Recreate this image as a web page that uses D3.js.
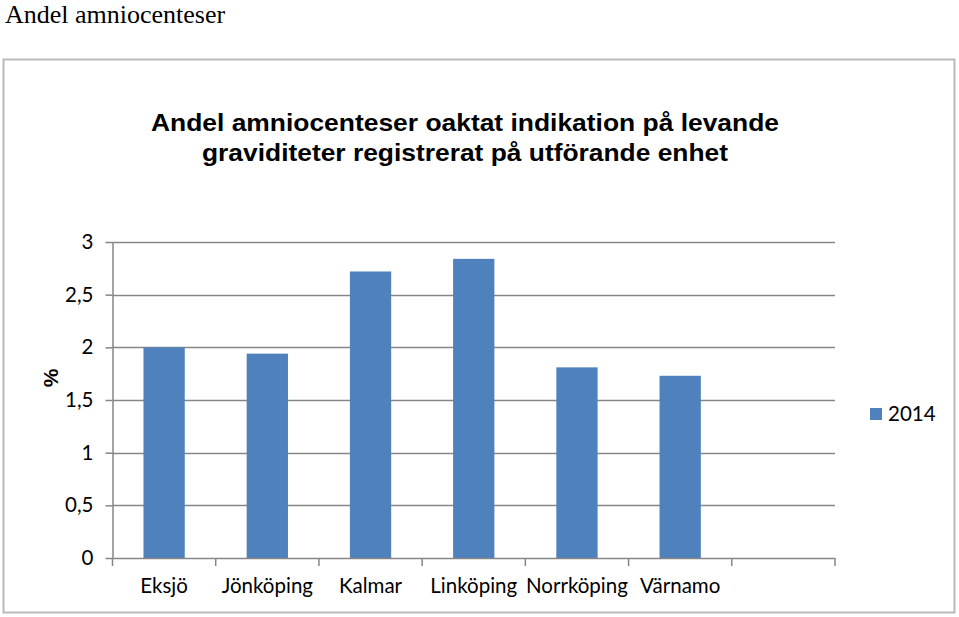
<!DOCTYPE html>
<html>
<head>
<meta charset="utf-8">
<script src="https://cdn.jsdelivr.net/npm/d3@7"></script>
<style>
  body { margin: 0; background: #fff; }
  .page-title { font-family: "Liberation Serif", "Times New Roman", serif; font-size: 26px; }
  .chart-title { font-family: "Liberation Sans", Arial, sans-serif; font-size: 24.5px; font-weight: bold; }
  .axis text, .legend text { font-family: Lato, "Open Sans", sans-serif; font-size: 20.5px; fill: #000; }
  .axis path, .axis line { stroke: #868686; }
</style>
</head>
<body>
<svg id="chart"></svg>
<script>
// Data
const categories = ['Eksjö', 'Jönköping', 'Kalmar', 'Linköping', 'Norrköping', 'Värnamo', ''];
const values2014 = [2.0, 1.94, 2.72, 2.84, 1.81, 1.73, null];
const yTicks = [0, 0.5, 1, 1.5, 2, 2.5, 3];
const seriesName = '2014';
const titleLines = ['Andel amniocenteser oaktat indikation på levande', 'graviditeter registrerat på utförande enhet'];

const width = 959, height = 617;
const margin = { top: 242, right: 124, bottom: 59, left: 112.5 };
const innerW = width - margin.left - margin.right;
const innerH = height - margin.top - margin.bottom;

const svg = d3.select('#chart')
  .attr('width', width)
  .attr('height', height);

// Page heading
svg.append('text')
  .attr('class', 'page-title')
  .attr('x', 5)
  .attr('y', 23)
  .text('Andel amniocenteser');

// Chart frame
svg.append('rect')
  .attr('x', 3.5)
  .attr('y', 59.5)
  .attr('width', 951)
  .attr('height', 553)
  .attr('fill', 'none')
  .attr('stroke', '#b9b9b9')
  .attr('stroke-width', 2);

// Chart title (slightly stretched, as in the original)
const titleWidths = [628, 526];
const title = svg.append('text')
  .attr('class', 'chart-title')
  .attr('text-anchor', 'middle')
  .attr('x', 465)
  .attr('y', 131);
titleLines.forEach((t, i) => {
  title.append('tspan')
    .attr('x', 465)
    .attr('dy', i === 0 ? 0 : 30)
    .attr('textLength', titleWidths[i])
    .attr('lengthAdjust', 'spacingAndGlyphs')
    .text(t);
});

const g = svg.append('g')
  .attr('transform', `translate(${margin.left},${margin.top})`);

// Scales
const x = d3.scaleBand()
  .domain(categories.map((d, i) => i))
  .range([0, innerW])
  .paddingInner(0.6)
  .paddingOuter(0.3);

const y = d3.scaleLinear()
  .domain([0, 3])
  .range([innerH, 0]);

// Gridlines
g.append('g')
  .selectAll('line')
  .data(yTicks.filter(d => d > 0))
  .join('line')
  .attr('x1', 0)
  .attr('x2', innerW)
  .attr('y1', d => Math.round(y(d)) + 0.5)
  .attr('y2', d => Math.round(y(d)) + 0.5)
  .attr('stroke', '#868686')
  .attr('stroke-width', 1.5);

// Y axis
const yAxis = d3.axisLeft(y)
  .tickValues(yTicks)
  .tickSize(7)
  .tickPadding(12)
  .tickFormat(d => String(d).replace('.', ','));

g.append('g')
  .attr('class', 'axis y-axis')
  .call(yAxis)
  .call(a => a.select('.domain').attr('d', `M0.5,${innerH}V0`).attr('stroke-width', 1.5))
  .call(a => a.selectAll('.tick line').attr('stroke-width', 1.5));

// Bars
g.selectAll('.bar')
  .data(values2014.map((v, i) => ({ i, v })).filter(d => d.v !== null))
  .join('rect')
  .attr('class', 'bar')
  .attr('x', d => x(d.i))
  .attr('width', x.bandwidth())
  .attr('y', d => y(d.v))
  .attr('height', d => innerH - y(d.v))
  .attr('fill', '#4F81BD');

// X axis: ticks between categories
const step = innerW / categories.length;
const xAxisG = g.append('g')
  .attr('class', 'axis x-axis')
  .attr('transform', `translate(0,${innerH})`);

xAxisG.append('line')
  .attr('x1', 0).attr('x2', innerW)
  .attr('y1', 0.5).attr('y2', 0.5)
  .attr('stroke', '#868686')
  .attr('stroke-width', 1.5);

xAxisG.selectAll('.xtick')
  .data(d3.range(categories.length + 1))
  .join('line')
  .attr('class', 'xtick')
  .attr('x1', d => d * step)
  .attr('x2', d => d * step)
  .attr('y1', 0)
  .attr('y2', 8)
  .attr('stroke', '#868686')
  .attr('stroke-width', 1.5);

xAxisG.selectAll('.xlabel')
  .data(categories)
  .join('text')
  .attr('class', 'xlabel')
  .attr('text-anchor', 'middle')
  .attr('x', (d, i) => x(i) + x.bandwidth() / 2)
  .attr('y', 35)
  .text(d => d);

// Y axis title
svg.append('text')
  .attr('class', 'chart-title')
  .attr('transform', 'translate(58,378) rotate(-90)')
  .attr('text-anchor', 'middle')
  .style('font-size', '21px')
  .text('%');

// Legend
const legend = svg.append('g').attr('class', 'legend')
  .attr('transform', 'translate(870,408)');
legend.append('rect')
  .attr('width', 12)
  .attr('height', 12)
  .attr('fill', '#4F81BD');
legend.append('text')
  .attr('x', 18)
  .attr('y', 13)
  .text(seriesName);
</script>
</body>
</html>
